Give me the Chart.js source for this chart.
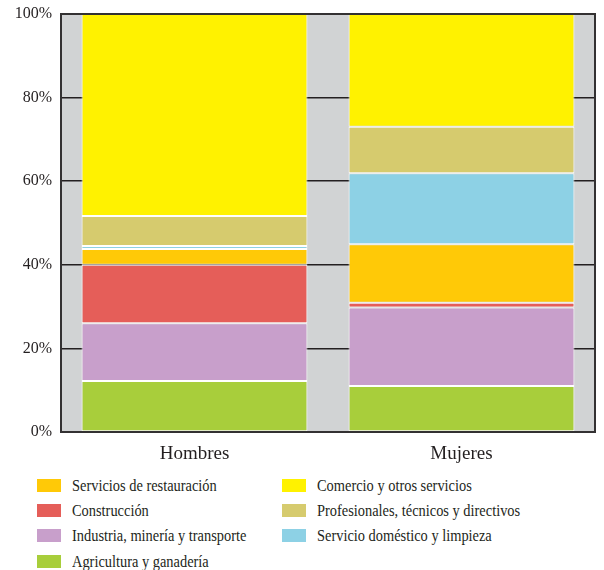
<!DOCTYPE html>
<html>
<head>
<meta charset="utf-8">
<script src="https://cdn.jsdelivr.net/npm/chart.js@4/dist/chart.umd.min.js"></script>
<style>
  body { margin: 0; background: #fff; }
  #wrap { position: relative; width: 604px; height: 570px; }
  #chart-box { position: absolute; left: 0; top: 0; width: 604px; height: 470px; }
  .leg { position: absolute; font-family: 'Liberation Serif', serif; font-size: 16px; color: #231f20; white-space: nowrap; }
  .leg span { position: absolute; left: 0; top: 0; width: 24px; height: 13px; }
  .leg b { position: absolute; left: 35px; top: -2px; font-weight: normal; transform: scaleX(0.9); transform-origin: left center; }
</style>
</head>
<body>
<div id="wrap">
  <div id="chart-box"><canvas id="chart" width="604" height="470"></canvas></div>
  <div id="legend"></div>
</div>
<script>
// Categorías y series (de abajo hacia arriba en la pila)
const categories = ['Hombres', 'Mujeres'];
const seriesNames = [
    'Agricultura y ganadería',
    'Industria, minería y transporte',
    'Construcción',
    'Servicios de restauración',
    'Servicio doméstico y limpieza',
    'Profesionales, técnicos y directivos',
    'Comercio y otros servicios'
];
const agricultura = [12.2, 11.0];
const industria = [13.8, 18.8];
const construccion = [14.0, 1.1];
const restauracion = [3.8, 14.0];
const domestico = [0.7, 17.0];
const profesionales = [7.2, 11.1];
const comercio = [48.3, 27.0];
const yTicks = [0, 20, 40, 60, 80, 100];

const colors = ['#a8ce3b', '#c89fcb', '#e55e59', '#ffc907', '#8dd1e5', '#d6cb6e', '#fff200'];
const values = [agricultura, industria, construccion, restauracion, domestico, profesionales, comercio];
const serif = "'Liberation Serif', serif";

// Fondo gris del área y marco
const areaPlugin = {
    id: 'area',
    beforeDraw(chart) {
        const a = chart.chartArea, c = chart.ctx;
        c.save();
        c.fillStyle = '#d1d3d4';
        c.fillRect(a.left, a.top, a.right - a.left, a.bottom - a.top);
        c.restore();
    },
    afterDraw(chart) {
        const a = chart.chartArea, c = chart.ctx;
        c.save();
        c.strokeStyle = '#333132';
        c.lineWidth = 2;
        c.strokeRect(a.left, a.top, a.right - a.left, a.bottom - a.top);
        c.restore();
    }
};

const chart = new Chart(document.getElementById('chart').getContext('2d'), {
    type: 'bar',
    data: {
        labels: categories,
        datasets: seriesNames.map((name, i) => ({
            label: name,
            data: values[i],
            backgroundColor: colors[i],
            borderColor: '#ffffff',
            borderWidth: 1,
            borderSkipped: false,
            barPercentage: 0.846,
            categoryPercentage: 1
        }))
    },
    options: {
        responsive: false,
        animation: false,
        layout: { padding: { top: 14, right: 9, left: 0, bottom: 0 } },
        plugins: { legend: { display: false }, tooltip: { enabled: false } },
        scales: {
            x: {
                stacked: true,
                grid: { display: false },
                border: { display: false },
                ticks: { color: '#231f20', padding: 3, font: { family: serif, size: 19 } },
                afterFit(s) { s.height = 38; s.paddingLeft = 0; s.paddingRight = 0; }
            },
            y: {
                stacked: true,
                min: 0,
                max: 100,
                z: 1,
                afterBuildTicks(s) { s.ticks = yTicks.map(v => ({ value: v })); },
                afterFit(s) { s.width = 61; s.paddingTop = 0; s.paddingBottom = 0; },
                grid: { color: '#231f20', lineWidth: 1.5, drawTicks: false },
                border: { display: false },
                ticks: {
                    color: '#231f20',
                    padding: 9,
                    font: { family: serif, size: 16 },
                    callback: v => v + '%'
                }
            }
        }
    },
    plugins: [areaPlugin]
});

// Leyenda en dos columnas
const legendLayout = [
    { idx: 3, x: 37, y: 479 },
    { idx: 2, x: 37, y: 504 },
    { idx: 1, x: 37, y: 529 },
    { idx: 0, x: 37, y: 555 },
    { idx: 6, x: 282, y: 479 },
    { idx: 5, x: 282, y: 504 },
    { idx: 4, x: 282, y: 529 }
];
const legend = document.getElementById('legend');
legendLayout.forEach(item => {
    const el = document.createElement('div');
    el.className = 'leg';
    el.style.left = item.x + 'px';
    el.style.top = item.y + 'px';
    el.innerHTML = '<span style="background:' + colors[item.idx] + '"></span><b>' + seriesNames[item.idx] + '</b>';
    legend.appendChild(el);
});
</script>
</body>
</html>
